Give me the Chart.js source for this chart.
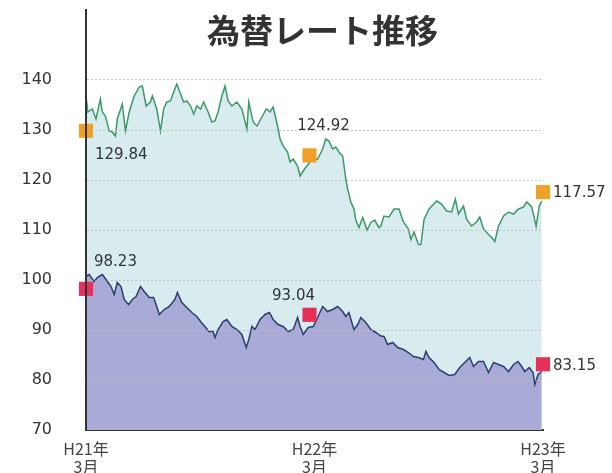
<!DOCTYPE html>
<html lang="ja">
<head>
<meta charset="utf-8">
<title>為替レート推移</title>
<script src="https://cdn.jsdelivr.net/npm/chart.js@4.4.0/dist/chart.umd.min.js"></script>
<style>
  html, body { margin: 0; padding: 0; background: #fff; }
  #wrap { width: 612px; height: 473px; }
</style>
</head>
<body>
<div id="wrap"><canvas id="rateChart" width="612" height="473"></canvas></div>
<script>
const chartTitle = "為替レート推移";

// x は H21年3月からの経過日数
const xTickDays = [0, 365, 730];
const xTickLabels = [["H21年", "3月"], ["H22年", "3月"], ["H23年", "3月"]];
const yTicks = [70, 80, 90, 100, 110, 120, 130, 140];

// ユーロ/円 (緑)
const eurDays = [
  0, 3, 10, 16, 23, 26, 31, 37, 42, 47, 50, 58, 63, 69, 77, 85, 90, 96, 103, 106,
  113, 119, 124, 129, 135, 140, 145, 151, 156, 161, 167, 172, 177, 183, 188, 195, 201, 206, 211, 217,
  222, 227, 233, 241, 249, 257, 260, 267, 273, 281, 288, 294, 299, 306, 310, 315, 322, 326, 331, 338,
  342, 349, 359, 370, 378, 383, 388, 394, 399, 404, 410, 415, 418, 423, 428, 431, 436, 442, 449, 455,
  461, 468, 471, 476, 484, 492, 500, 507, 515, 519, 524, 531, 535, 540, 548, 560, 568, 576, 584, 590,
  595, 603, 608, 616, 624, 629, 635, 643, 648, 653, 659, 667, 675, 683, 691, 699, 704, 712, 719, 724, 728,
];
const eurRates = [
  136.8, 133.6, 134.2, 132.2, 136.2, 133.6, 132.8, 129.8, 129.6, 128.8, 132.2, 135.2, 129.8, 133.6, 136.8, 138.6, 138.8, 134.8, 135.6, 136.8,
  134.2, 129.8, 134.2, 135.6, 135.8, 137.6, 139.2, 137.2, 135.6, 135.8, 134.8, 133.2, 134.8, 134.2, 135.6, 133.6, 131.6, 131.8, 133.6, 136.8,
  138.8, 135.8, 134.8, 135.6, 134.2, 130.2, 135.6, 131.6, 130.8, 132.6, 134.2, 133.6, 134.6, 130.8, 128.2, 126.8, 125.6, 123.6, 124.2, 122.8,
  120.8, 122.2, 123.8, 124.2, 126.2, 128.2, 127.8, 126.2, 126.6, 125.6, 124.8, 120.2, 118.2, 115.6, 114.2, 112.0, 110.5, 112.5, 110.0, 111.5,
  112.0, 110.5, 110.8, 112.8, 112.6, 114.2, 114.2, 111.6, 110.2, 108.1, 109.6, 107.1, 107.1, 112.1, 114.2, 115.8, 115.2, 113.8, 113.6, 116.2,
  113.2, 114.8, 112.1, 110.8, 111.6, 112.6, 110.2, 109.1, 108.5, 107.7, 110.8, 112.8, 113.6, 113.2, 114.2, 114.6, 115.6, 114.6, 110.8, 114.8, 115.8,
];

// ドル/円 (紺)
const usdDays = [
  0, 5, 13, 18, 26, 32, 40, 45, 50, 56, 61, 68, 74, 80, 87, 93, 101, 108, 113, 117,
  125, 133, 142, 146, 153, 161, 169, 177, 183, 190, 196, 203, 206, 211, 219, 225, 233, 241, 249, 256,
  260, 265, 270, 278, 286, 293, 299, 307, 315, 323, 331, 338, 342, 347, 355, 363, 370, 378, 386, 394,
  402, 410, 415, 420, 428, 434, 439, 447, 455, 463, 471, 476, 482, 490, 498, 507, 515, 523, 531, 539,
  543, 548, 556, 564, 572, 580, 589, 597, 605, 613, 619, 627, 635, 643, 651, 659, 667, 675, 683, 690,
  696, 701, 708, 714, 717, 722, 728,
];
const usdRates = [
  100.7, 101.1, 99.7, 100.5, 101.1, 100.1, 98.7, 97.1, 99.5, 98.7, 96.1, 95.1, 96.1, 96.7, 98.7, 97.7, 96.5, 96.5, 94.7, 93.1,
  94.1, 94.7, 96.1, 97.5, 95.5, 94.5, 93.5, 92.7, 91.7, 90.7, 89.7, 89.7, 88.5, 90.1, 91.7, 92.1, 90.7, 90.1, 89.1, 86.5,
  88.1, 90.7, 90.1, 92.1, 93.1, 93.5, 92.1, 91.1, 90.7, 89.7, 90.1, 92.5, 90.7, 89.1, 90.5, 90.7, 92.5, 94.7, 93.7, 94.1,
  94.7, 93.7, 92.7, 93.5, 90.1, 91.1, 92.5, 91.5, 90.1, 89.5, 88.8, 88.7, 87.1, 87.5, 86.5, 86.1, 85.5, 84.7, 84.5, 84.1,
  85.7, 84.5, 83.5, 82.1, 81.5, 80.9, 81.1, 82.5, 83.5, 84.5, 82.7, 83.7, 83.7, 81.5, 83.5, 83.1, 82.7, 81.7, 83.1, 83.7,
  82.7, 81.7, 82.5, 81.5, 79.1, 81.1, 81.7,
];

// 各年3月の値 (マーカー)
const markDays = [0, 357, 730];
const eurMarks = [129.84, 124.92, 117.57];
const usdMarks = [98.23, 93.04, 83.15];

const toPoints = (xs, ys) => xs.map((x, i) => ({ x: x, y: ys[i] }));

// ラベルの位置 (マーカーからのずれ)
const labelOffsets = {
  eur: [[9, 24, "left"], [14, -29, "center"], [10, 1, "left"]],
  usd: [[8, -27, "left"], [-16, -19, "center"], [10, 2, "left"]],
};

const titlePlugin = {
  id: "chartTitle",
  afterDraw(chart) {
    const c = chart.ctx;
    const area = chart.chartArea;
    c.save();
    c.font = "bold 33px 'Noto Sans CJK JP'";
    c.fillStyle = "#333";
    c.textAlign = "center";
    c.textBaseline = "middle";
    c.fillText(chartTitle, (area.left + area.right) / 2 + 8, 30);
    c.restore();
  },
};

const valueLabels = {
  id: "valueLabels",
  afterDatasetsDraw(chart) {
    const c = chart.ctx;
    c.save();
    c.font = "15px 'DejaVu Sans'";
    c.fillStyle = "#333";
    c.textBaseline = "middle";
    chart.data.datasets.forEach((ds, di) => {
      if (!ds.labelKey) return;
      const meta = chart.getDatasetMeta(di);
      meta.data.forEach((pt, i) => {
        const off = labelOffsets[ds.labelKey][i];
        c.textAlign = off[2];
        c.fillText(ds.data[i].y.toFixed(2), pt.x + off[0], pt.y + off[1]);
      });
    });
    c.restore();
  },
};

const ctx = document.getElementById("rateChart").getContext("2d");

new Chart(ctx, {
  type: "line",
  data: {
    datasets: [
      {
        label: "ユーロ3月",
        data: toPoints(markDays, eurMarks),
        labelKey: "eur",
        showLine: false,
        pointStyle: "rect",
        pointRadius: 10,
        pointBorderWidth: 0,
        pointBackgroundColor: "#f0a028",
        clip: false,
        order: 0,
      },
      {
        label: "ドル3月",
        data: toPoints(markDays, usdMarks),
        labelKey: "usd",
        showLine: false,
        pointStyle: "rect",
        pointRadius: 10,
        pointBorderWidth: 0,
        pointBackgroundColor: "#e6305a",
        clip: false,
        order: 0,
      },
      {
        label: "ドル/円",
        data: toPoints(usdDays, usdRates),
        borderColor: "#2c3d6e",
        backgroundColor: "#a9abd6",
        borderWidth: 1.5,
        pointRadius: 0,
        fill: "start",
        tension: 0,
        order: 1,
      },
      {
        label: "ユーロ/円",
        data: toPoints(eurDays, eurRates),
        borderColor: "#3b9a68",
        backgroundColor: "#d8ebee",
        borderWidth: 1.5,
        pointRadius: 0,
        fill: "start",
        tension: 0,
        order: 2,
      },
    ],
  },
  options: {
    responsive: false,
    animation: false,
    layout: { padding: { top: 10, right: 69, left: 0, bottom: 0 } },
    plugins: {
      legend: { display: false },
      tooltip: { enabled: false },
    },
    scales: {
      x: {
        type: "linear",
        min: 0,
        max: 730,
        afterBuildTicks: (axis) => {
          axis.ticks = xTickDays.map((v) => ({ value: v }));
        },
        afterFit: (axis) => {
          axis.height = 43;
          axis.paddingLeft = 0;
          axis.paddingRight = 0;
        },
        grid: { drawOnChartArea: false, drawTicks: false },
        border: { display: true, color: "#333", width: 2 },
        ticks: {
          maxRotation: 0,
          autoSkip: false,
          padding: 10,
          color: "#444",
          font: { family: "'Noto Sans CJK JP'", size: 16, lineHeight: 1.12 },
          callback: (v) => xTickLabels[xTickDays.indexOf(v)],
        },
      },
      y: {
        min: 70,
        max: 154,
        afterBuildTicks: (axis) => {
          axis.ticks = yTicks.map((v) => ({ value: v }));
        },
        afterFit: (axis) => {
          axis.width = 86;
          axis.paddingTop = 0;
          axis.paddingBottom = 0;
        },
        grid: {
          z: 1,
          drawTicks: false,
          color: (c) => (c.tick && c.tick.value === 70 ? "rgba(0,0,0,0)" : "rgba(185,185,185,0.8)"),
        },
        border: { display: true, color: "#333", width: 2, z: 2, dash: [2, 2] },
        ticks: {
          padding: 34,
          color: "#333",
          font: { family: "'DejaVu Sans'", size: 16 },
        },
      },
    },
  },
  plugins: [titlePlugin, valueLabels],
});
</script>
</body>
</html>
